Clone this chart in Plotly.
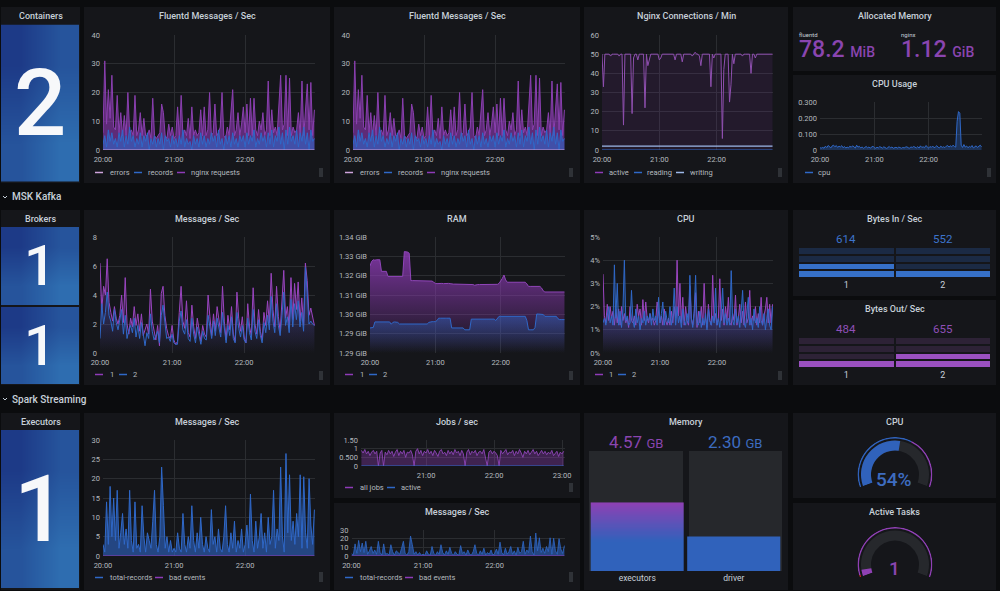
import numpy as np
import pandas as pd
import plotly.graph_objects as go

W, H = 1000, 591
PURPLE = "#8f3bb8"
BLUE = "#2f68c8"
PALE_PURPLE = "#cfa4dc"
PALE_BLUE = "#9db8e8"
TEXT = "#c7d0d9"
TICK = "#b4b9bf"
PAGE = "#0b0c0e"
PANEL = "#15161a"
GRID = "#2b2d31"
FONT = "Roboto"

# ---------- values ----------
fluent_requests = [6,31,9,21,11,26,8,7,19,6, 13,5,12,5,20,6,7,5,19,5, 7,13,5,11,5,5,7,4,18,5,
                   4,5,6,16,13,5,4,9,5,8, 4,5,15,4,19,5,7,5,11,4, 15,5,7,5,6,14,5,15,5,7,
                   20,5,6,16,5,6,8,20,5,4, 8,5,13,21,5,7,13,5,9,15, 6,16,5,18,5,18,7,5,10,7,
                   13,5,7,24,5,14,6,8,5,16, 26,7,9,26,5,25,5,8,6,7, 13,5,24,5,14,23,7,23.5,5,14]
fluent_records = [2,5,1,7,3,6,2,4,1,6, 3,7,1,5,2,8,3,5,1,4, 2,6,1,5,3,6,0,4,2,5,
                  1,4,2,6,0,5,3,4,1,5, 2,4,1,5,2,7,1,4,2,3, 0,5,2,4,1,6,2,5,1,4,
                  2,6,3,5,1,7,2,4,0,5, 2,5,1,6,2,4,1,5,3,5, 1,6,2,5,3,7,1,4,2,6,
                  3,5,1,6,2,7,1,5,3,8, 2,6,0,7,2,8,3,5,2,7, 1,6,3,8,2,6,0,7,3,4]
fluent_errors = [0] * 120

nginx_active = [50,33,50,50,50,50,49,50,50,50, 50,50,49,50,50,13,50,50,50,50,
                50,19,48,50,50,47,50,50,50,50, 22,50,44,48,50,50,50,50,50,50,
                47,48,50,50,50,50,50,50,50,50, 50,47,50,50,50,50,46,50,50,50,
                50,50,50,49,50,51,50,50,49,44, 50,50,50,50,50,50,33,50,48,50,
                50,50,50,50,6,42,50,50,50,25, 34,50,45,50,50,50,50,50,49,50,
                50,50,50,50,40,50,50,48,50,50, 50,50,50,50,50,50,50,50,50,50]
nginx_reading = [0] * 120
nginx_writing = [2] * 120

cpu_usage = [.014,.012,.016,.011,.024,.015,.028,.018,.013,.026, .03,.02,.028,.016,.024,.019,.027,.014,.022,.012,
             .018,.013,.024,.017,.026,.02,.012,.03,.018,.023, .013,.019,.011,.016,.022,.014,.018,.012,.02,.024,
             .015,.011,.017,.013,.021,.016,.012,.02,.014,.01, .015,.022,.013,.019,.011,.014,.017,.012,.018,.015,
             .011,.016,.013,.018,.02,.014,.012,.019,.016,.022, .015,.013,.021,.012,.026,.016,.02,.014,.028,.018,
             .012,.022,.016,.025,.014,.019,.027,.017,.013,.024, .016,.02,.015,.024,.028,.018,.026,.02,.03,.022,
             .018,.18,.24,.23,.03,.016,.034,.018,.025,.014, .022,.017,.028,.013,.02,.026,.016,.024,.03,.02]

kafka_msg_1 = [6.2,3.0,4.6,4.0,6.5,3.5,2.8,2.2,3.2,2.4, 2.0,2.6,4.0,2.1,5.2,2.0,1.3,2.4,1.8,3.2,
               1.9,2.7,1.5,2.7,1.2,1.6,2.0,1.3,4.4,2.2, 1.4,0.9,1.9,0.5,4.1,4.6,2.6,1.7,1.2,1.0,
               1.9,0.9,0.6,0.8,2.8,4.6,2.2,1.7,3.6,1.4, 1.1,3.3,1.8,1.0,2.4,1.4,0.8,1.9,1.3,1.1,
               4.0,2.5,1.2,2.7,1.5,3.2,2.1,1.4,4.6,2.2, 0.9,2.6,1.6,3.2,1.3,0.8,4.2,2.4,1.5,2.5,
               1.1,0.7,3.4,1.8,1.2,4.5,2.0,1.3,3.0,1.5, 0.9,2.8,1.9,3.6,2.1,5.5,3.0,1.8,4.6,2.5,
               1.5,3.5,5.7,2.4,3.2,1.8,5.2,2.3,4.8,3.0, 4.9,2.2,3.8,1.9,6.2,5.0,2.6,3.1,2.4,1.9]
kafka_msg_2 = [1.0,3.4,2.0,2.8,4.2,2.6,2.2,1.5,3.0,2.1, 1.6,2.2,3.0,1.3,2.6,1.0,1.6,1.9,1.4,2.4,
               1.1,1.9,1.0,2.1,1.3,0.5,1.4,1.0,2.7,1.5, 0.9,1.2,1.5,0.7,2.6,3.3,1.9,1.0,1.1,0.8,
               1.3,0.7,0.6,0.6,2.2,2.9,1.6,1.3,2.3,1.0, 0.8,2.4,1.3,0.7,1.8,1.2,0.6,1.5,1.0,0.9,
               2.6,1.8,1.0,2.2,1.2,2.4,1.6,1.1,2.8,1.6, 0.7,1.9,1.2,2.5,1.0,0.7,2.8,1.7,1.1,1.9,
               0.9,0.7,2.4,1.4,0.9,3.0,1.5,1.0,2.3,1.2, 0.7,2.1,1.4,2.6,1.6,3.9,2.2,1.4,3.4,1.9,
               1.2,2.6,4.2,1.9,2.5,1.4,3.7,1.8,3.4,2.3, 3.6,1.8,2.8,1.5,5.9,4.2,2.0,2.2,2.0,1.9]

ram_1 = [1.3225,1.3245,1.3252,1.3250,1.3252,1.3252,1.3252,1.3202,1.3202,1.3202,
         1.3202,1.3180,1.3180,1.3180,1.3181,1.3180,1.3180,1.3180,1.3181,1.3180,
         1.3180,1.3287,1.3287,1.3285,1.3280,1.3162,1.3162,1.3162,1.3161,1.3162,
         1.3162,1.3162,1.3162,1.3163,1.3162,1.3162,1.3161,1.3162,1.3160,1.3155,
         1.3150,1.3149,1.3150,1.3150,1.3150,1.3149,1.3150,1.3150,1.3150,1.3149,
         1.3147,1.3147,1.3147,1.3147,1.3146,1.3146,1.3146,1.3146,1.3145,1.3145,
         1.3145,1.3145,1.3145,1.3145,1.3142,1.3145,1.3145,1.3145,1.3145,1.3145,
         1.3145,1.3145,1.3146,1.3146,1.3146,1.3146,1.3146,1.3146,1.3146,1.3150,
         1.3160,1.3172,1.3186,1.3165,1.3155,1.3155,1.3155,1.3155,1.3155,1.3155,
         1.3155,1.3155,1.3155,1.3155,1.3155,1.3155,1.3148,1.3137,1.3137,1.3137,
         1.3137,1.3137,1.3137,1.3137,1.3137,1.3130,1.3118,1.3113,1.3113,1.3113,
         1.3113,1.3113,1.3113,1.3113,1.3113,1.3113,1.3113,1.3113,1.3113,1.3113]
ram_2 = [1.2958,1.2958,1.2960,1.2984,1.2984,1.2984,1.2984,1.2984,1.2984,1.2984,
         1.2984,1.2984,1.2984,1.2974,1.2982,1.2984,1.2984,1.2982,1.2975,1.2975,
         1.2975,1.2974,1.2975,1.2975,1.2975,1.2975,1.2974,1.2975,1.2975,1.2975,
         1.2975,1.2975,1.2974,1.2975,1.2975,1.2975,1.2982,1.2985,1.2985,1.2985,
         1.2985,1.2990,1.3000,1.3000,1.3001,1.3000,1.3000,1.3000,1.3001,1.3000,
         1.2958,1.2958,1.2958,1.2958,1.2958,1.2958,1.2958,1.2958,1.2950,1.2950,
         1.2950,1.2950,1.2996,1.2996,1.2996,1.2996,1.2996,1.2996,1.2996,1.2996,
         1.2996,1.2996,1.2996,1.2996,1.2996,1.2996,1.2996,1.2990,1.3000,1.3008,
         1.3008,1.3008,1.3008,1.3008,1.3008,1.3008,1.3008,1.3008,1.3008,1.3008,
         1.3008,1.3008,1.3008,1.3008,1.3008,1.3008,1.2990,1.2950,1.2950,1.2950,
         1.2950,1.2960,1.3018,1.3018,1.3018,1.3018,1.3016,1.3008,1.3008,1.3008,
         1.3008,1.3008,1.3008,1.3008,1.3008,1.2998,1.2994,1.2994,1.2994,1.2994]

kafka_cpu_1 = [3.4,1.6,1.3,2.1,1.4,2.0,1.5,1.8,1.2,1.9, 1.3,1.9,1.2,2.0,1.4,1.7,1.3,1.5,1.1,2.0,
               1.4,1.3,1.6,1.2,2.1,1.6,1.9,1.2,2.3,1.4, 2.2,1.5,1.3,1.7,1.4,1.5,1.2,1.4,2.2,1.6,
               1.3,1.6,1.2,1.9,1.4,1.2,1.5,1.2,1.8,1.3, 2.0,1.5,4.0,1.6,3.0,1.3,2.4,1.2,2.0,1.4,
               1.2,2.9,1.5,1.2,1.7,2.6,1.1,1.8,1.3,2.0, 1.2,3.0,1.5,1.1,2.1,1.4,1.2,3.35,1.4,1.7,
               1.2,1.5,3.2,1.4,1.9,1.2,2.0,1.4,2.4,1.3, 1.2,1.7,1.4,2.5,1.2,1.5,2.1,1.3,1.8,1.2,
               2.2,1.3,1.5,2.7,1.2,1.6,1.4,2.0,1.2,1.7, 1.3,2.4,1.2,1.6,1.9,2.4,1.3,2.1,1.3,2.1]
kafka_cpu_2 = [1.3,1.5,1.2,1.7,2.0,1.3,1.6,1.2,3.8,1.5, 3.0,1.2,1.8,1.1,1.9,4.0,1.4,1.6,1.2,1.3,
               2.7,1.4,1.1,1.9,1.3,1.6,1.0,1.5,1.3,1.8, 1.2,1.6,1.4,1.7,1.2,1.9,1.4,1.6,1.2,2.4,
               1.3,1.7,2.2,1.2,1.8,1.4,1.3,2.0,1.2,1.6, 2.8,1.2,2.0,1.3,1.6,1.1,1.9,1.4,1.2,1.7,
               1.3,3.35,1.5,1.1,1.8,3.35,1.3,1.2,1.8,1.1, 1.5,1.2,1.7,1.0,1.9,1.4,1.2,1.6,1.3,2.8,
               1.2,1.5,1.1,1.8,2.8,1.3,1.7,1.2,1.5,1.2, 3.55,1.4,1.2,1.9,1.3,1.6,1.1,1.8,2.7,1.3,
               1.1,1.7,2.4,1.2,1.5,1.0,1.9,1.3,1.5,1.1, 2.0,1.4,1.2,1.7,1.0,1.5,1.9,1.2,1.0,2.0]

spark_records = [3,1,14,3,18,5,15,4,17,2, 6,11,3,7,2,17,4,1,14,2, 3,1,13,5,1,6,4,2,9,17,
                 3,1,5,23,13,2,5,1,4,1, 2,1,6,2,1,11,3,1,5,2, 13,4,1,6,2,10,3,1,5,2,
                 1,12,3,5,1,7,2,1,5,13, 3,1,6,2,9,1,4,2,7,1, 3,8,2,16,4,1,9,2,5,11,
                 2,6,1,10,3,5,17,2,7,4, 23,5,1,26.5,6,21,4,9,3,11, 5,21,2,20.5,6,2,20,8,3,12]
spark_bad = [0] * 120

jobs_all = [.9,.75,.95,.7,.85,.6,.8,.9,.7,.85, 0,.75,.9,0,.8,.65,.9,.7,.85,.55, .8,.95,.6,.85,.7,.9,.5,.8,.75,.9,
            .65,0,.85,1.0,.7,.9,.6,.85,.75,.95, .7,.85,.6,.9,.75,.55,.85,.95,.7,.8, .6,.9,.7,.85,.65,.95,.75,.85,.6,.9,
            .7,0,.8,.95,.65,.85,.75,.9,.6,.8, .85,.7,.95,.55,0,.8,.9,.7,.85,.75, .6,0,.9,.7,.85,.95,.65,.8,.75,.9,
            .6,.85,.7,.95,.75,.5,.85,.7,.9,.65, .8,.95,.7,.85,.6,.75,.9,.7,.85,.65, .8,.7,.9,.6,.75,.85,.55,.8,.7,.85]
jobs_active = [0] * 120

stat_containers = 2
stat_brokers = [1, 1]
stat_executors = 1
mem_names = ["executors", "driver"]
mem_values = [4.57, 2.30]
mem_max = 8
alloc_fluentd = "78.2"
alloc_nginx = "1.12"
bytes_in = [614, 552]
bytes_out = [484, 655]
bytes_in_lit = [2, 1]
bytes_out_lit = [1, 2]
cpu_gauge_pct = 54
tasks_value = 1
tasks_gauge_pct = 5

times = pd.date_range("2021-01-01 20:00", periods=120, freq="90s")
times_jobs = pd.date_range("2021-01-01 20:03", periods=120, freq="90s")
END = "2021-01-01 22:59"

# ---------- helpers ----------
fig = go.Figure()
shapes, annots, layout = [], [], {}
axn = [0]


def px(x):
    return x / W


def py(y):
    return 1 - y / H


def rect(x0, y0, x1, y1, color):
    shapes.append(dict(type="rect", xref="paper", yref="paper", x0=px(x0), x1=px(x1), y0=py(y0), y1=py(y1),
                       fillcolor=color, line=dict(width=0), layer="below"))


def text(x, y, s, size=9, color=TEXT, anchor="center", weight=400):
    annots.append(dict(xref="paper", yref="paper", x=px(x), y=py(y), text=s, showarrow=False, xanchor=anchor,
                       yanchor="middle", align="center", borderpad=0,
                       font=dict(family=FONT, size=size, color=color, weight=weight)))


def chevron(x, y):
    shapes.append(dict(type="path", xref="paper", yref="paper", layer="above",
                       path=f"M {px(x)} {py(y - 1)} L {px(x + 2)} {py(y + 1)} L {px(x + 4)} {py(y - 1)}",
                       line=dict(color=TEXT, width=1)))


def panel(x0, y0, x1, y1, title, tx=None, ty=None):
    rect(x0, y0, x1, y1, PANEL)
    text(tx if tx else (x0 + x1) / 2, ty if ty else y0 + 9.5, title, size=9, weight=500)


def axes(box, xa=None, ya=None):
    axn[0] += 1
    n = axn[0]
    x0, y0, x1, y1 = box
    xa = dict(xa or {})
    ya = dict(ya or {})
    xa.update(domain=[px(x0), px(x1)], anchor=f"y{n}", fixedrange=True)
    ya.update(domain=[py(y1), py(y0)], anchor=f"x{n}", fixedrange=True)
    layout[f"xaxis{n}"] = xa
    layout[f"yaxis{n}"] = ya
    return f"x{n}", f"y{n}"


def time_axis(box, yvals, ylabels=None, yrange=None, start="2021-01-01 20:00", end=END, suffix=""):
    ya = dict(range=yrange or [yvals[0], yvals[-1]], tickvals=yvals, ticktext=ylabels or [str(v) + suffix for v in yvals],
              showgrid=True, gridcolor=GRID, gridwidth=1, zeroline=False, showline=False, ticks="",
              tickfont=dict(family=FONT, size=7.5, color=TICK), ticklabelstandoff=2)
    xa = dict(type="date", range=[start, end], dtick=3600000, tick0="2021-01-01 20:00", tickformat="%H:%M",
              showgrid=True, gridcolor=GRID, gridwidth=1, zeroline=False, showline=False, ticks="",
              tickfont=dict(family=FONT, size=7.5, color=TICK), ticklabelstandoff=3)
    return axes(box, xa, ya)


def line(ax, x, y, color, name, width=1.0, fill=None, gradient=None):
    kw = {}
    if fill:
        kw.update(fill="tozeroy", fillcolor=fill)
    if gradient:
        kw.update(fill="tozeroy", fillgradient=gradient)
    fig.add_trace(go.Scatter(x=x, y=y, mode="lines", name=name, xaxis=ax[0], yaxis=ax[1], showlegend=False,
                             hoverinfo="skip", line=dict(color=color, width=width), **kw))


def grad(rgb, y_low, y_high, a_low, a_high):
    r, g, b = rgb
    return dict(type="vertical", start=y_low, stop=y_high,
                colorscale=[[0, f"rgba({r},{g},{b},{a_low})"], [1, f"rgba({r},{g},{b},{a_high})"]])


def legend(y, items):
    for sx, tx, color, label in items:
        shapes.append(dict(type="line", xref="paper", yref="paper", x0=px(sx), x1=px(sx + 8), y0=py(y + .5), y1=py(y + .5),
                           line=dict(color=color, width=1.5), layer="above"))
        text(tx, y, label, size=7.5, color=TICK, anchor="left")


def pill(x, y0, y1):
    rect(x, y0, x + 4, y1, "#2f3237")


def stat(box, value, size):
    x0, y0, x1, y1 = box
    ax = axes(box, dict(visible=False), dict(visible=False))
    fig.add_trace(go.Heatmap(z=[[.5, 1], [0, .5]], xaxis=ax[0], yaxis=ax[1], zsmooth="best", showscale=False,
                             hoverinfo="skip", colorscale=[[0, "#1d3a87"], [1, "#2e6db0"]]))
    text((x0 + x1) / 2, (y0 + y1) / 2, str(value), size=size, color="#f7f8fa", weight=500)


def lcd(box, lit, color_on, color_off):
    rows = [[1 if lit[c] > r else 0 for c in range(2)] for r in range(4)]
    ax = axes(box, dict(tickvals=[0, 1], ticktext=["1", "2"], showgrid=False, zeroline=False, ticks="", ticklabelstandoff=0,
                        tickfont=dict(family=FONT, size=9, color=TEXT)),
              dict(visible=False))
    fig.add_trace(go.Heatmap(z=rows, x=[0, 1], y=[0, 1, 2, 3], xgap=2, ygap=2, zmin=0, zmax=1, showscale=False, hoverinfo="skip",
                             xaxis=ax[0], yaxis=ax[1], colorscale=[[0, color_off], [1, color_on]]))


def gauge(subplot, top, pct, band, outer):
    radius = 37.5
    cx = 895
    layout[subplot] = dict(domain=dict(x=[px(cx - radius), px(cx + radius)], y=[py(top + radius * 1.342), py(top)]),
                           sector=[-20, 200], bgcolor="rgba(0,0,0,0)", barmode="overlay",
                           radialaxis=dict(visible=False, range=[0, radius]), angularaxis=dict(visible=False))

    def arc(start, stop, base, thick, color):
        a0, a1 = 200 - 2.2 * start, 200 - 2.2 * stop
        fig.add_trace(go.Barpolar(theta=[(a0 + a1) / 2], width=[a0 - a1], base=[base], r=[thick], subplot=subplot,
                                  marker=dict(color=color, line=dict(width=0)), hoverinfo="skip", showlegend=False))

    arc(0, 100, 24, 10, "#26282c")
    arc(0, pct, 24, 10, band)
    for start, stop, color in outer:
        arc(start, stop, 36, 1.5, color)


# ---------- page structure ----------
chevron(3, 197)
text(11, 197, "MSK Kafka", size=10, weight=500, anchor="left")
chevron(3, 399)
text(11, 399, "Spark Streaming", size=10, weight=500, anchor="left")

# Row 1
panel(1, 7, 80, 183, "Containers", ty=16)
stat((1, 24.5, 79, 182), stat_containers, 92)

for dx in (0, 250):
    panel(84 + dx, 7, 330 + dx, 183, "Fluentd Messages / Sec", ty=16)
    ax = time_axis((103 + dx, 35, 315 + dx, 150), [0, 10, 20, 30, 40])
    line(ax, times, fluent_requests, "#8a3fb0", "nginx requests", 1, fill="rgba(143,59,184,0.6)")
    line(ax, times, fluent_records, BLUE, "records", 1, fill="rgba(47,104,200,0.6)")
    line(ax, times, fluent_errors, PALE_PURPLE, "errors", 1.1)
    legend(172, [(95 + dx, 109 + dx, PALE_PURPLE, "errors"), (134 + dx, 147 + dx, BLUE, "records"),
                 (177 + dx, 190 + dx, PURPLE, "nginx requests")])
    pill(319 + dx, 168, 177)

panel(584, 7, 788, 183, "Nginx Connections / Min", ty=16)
ax = time_axis((602, 35, 773, 150), [0, 10, 20, 30, 40, 50, 60])
line(ax, times, nginx_active, "#8f4fb0", "active", 1, fill="rgba(143,59,184,0.12)")
line(ax, times, nginx_reading, BLUE, "reading", 1.2)
line(ax, times, nginx_writing, PALE_BLUE, "writing", 1.2)
legend(172, [(595, 608, PURPLE, "active"), (634, 646, BLUE, "reading"), (676, 689, PALE_BLUE, "writing")])
pill(778, 168, 177)

panel(793, 7, 996, 71, "Allocated Memory", ty=16)
text(798, 34, "fluentd", size=6, anchor="left")
text(900, 34, "nginx", size=6, anchor="left")
text(798, 50, f'{alloc_fluentd} <span style="font-size:14px">MiB</span>', size=23, color="#8a45b0", anchor="left", weight=500)
text(900, 50, f'{alloc_nginx} <span style="font-size:14px">GiB</span>', size=23, color="#8a45b0", anchor="left", weight=500)

panel(793, 75, 996, 183, "CPU Usage", ty=84)
ax = time_axis((820, 102, 982, 150), [0, .1, .2, .3], ["0", "0.100", "0.200", "0.300"])
line(ax, times, cpu_usage, BLUE, "cpu", 1, fill="rgba(47,104,200,0.35)")
legend(172, [(805, 817, BLUE, "cpu")])
pill(987, 168, 177)

# Row 2
panel(1, 210, 80, 385, "Brokers", ty=219)
stat((1, 227, 79, 305), stat_brokers[0], 56)
stat((1, 307, 79, 384), stat_brokers[1], 56)

panel(84, 210, 330, 385, "Messages / Sec", ty=219)
ax = time_axis((100, 237, 315, 353), [0, 2, 4, 6, 8])
line(ax, times, kafka_msg_1, "#9a45c0", "1", 1, gradient=grad((143, 59, 184), 0, 6, 0, .4))
line(ax, times, kafka_msg_2, BLUE, "2", 1, gradient=grad((47, 104, 200), 0, 6, 0, .4))
legend(374, [(95, 109, PURPLE, "1"), (119, 132, BLUE, "2")])
pill(319, 371, 380)

panel(334, 210, 580, 385, "RAM", ty=219)
ram_ticks = [1.285, 1.29333, 1.30167, 1.31, 1.31833, 1.32667, 1.335]
ram_labels = ["1.29 GiB", "1.29 GiB", "1.30 GiB", "1.31 GiB", "1.32 GiB", "1.33 GiB", "1.34 GiB"]
ax = time_axis((370, 237, 565, 353), ram_ticks, ram_labels)
line(ax, times, ram_1, "#8f45b8", "1", 1, gradient=grad((143, 59, 184), 1.285, 1.33, 0, .85))
line(ax, times, ram_2, "#2f68c8", "2", 1, gradient=grad((47, 104, 200), 1.285, 1.30, 0, .45))
legend(374, [(345, 359, PURPLE, "1"), (369, 382, BLUE, "2")])
pill(569, 371, 380)

panel(584, 210, 788, 385, "CPU", ty=219)
ax = time_axis((603, 237, 773, 353), [0, 1, 2, 3, 4, 5], suffix="%")
line(ax, times, kafka_cpu_1, "#9a45c0", "1", 1, gradient=grad((143, 59, 184), 0, 1.6, 0, .3))
line(ax, times, kafka_cpu_2, BLUE, "2", 1, gradient=grad((47, 104, 200), 0, 1.6, 0, .3))
legend(374, [(595, 608, PURPLE, "1"), (618, 631, BLUE, "2")])
pill(778, 371, 380)

panel(793, 210, 996, 296, "Bytes In / Sec", ty=219)
for xc, v in zip((846, 943), bytes_in):
    text(xc, 239, str(v), size=11.5, color="#3d74cc")
lcd((798, 247, 991, 278), bytes_in_lit, "#3670c8", "#1b2a44")

panel(793, 300, 996, 385, "Bytes Out/ Sec", ty=309)
for xc, v in zip((846, 943), bytes_out):
    text(xc, 329, str(v), size=11.5, color="#8f4fb8")
lcd((798, 337, 991, 368), bytes_out_lit, "#9a50c0", "#2d2236")

# Row 3
panel(1, 413, 80, 590, "Executors", ty=422)
stat((1, 430, 79, 588), stat_executors, 92)

panel(84, 413, 330, 590, "Messages / Sec", ty=422)
ax = time_axis((103, 440, 315, 556), [0, 5, 10, 15, 20, 25, 30])
line(ax, times, spark_records, BLUE, "total-records", 1, fill="rgba(47,104,200,0.6)")
line(ax, times, spark_bad, PURPLE, "bad events", 1)
legend(577, [(95, 109, BLUE, "total-records"), (155, 168, PURPLE, "bad events")])
pill(319, 572, 582)

panel(334, 413, 580, 498, "Jobs / sec", ty=422)
ax = time_axis((361, 440, 565, 466), [0, .5, 1, 1.5], ["0", "0.500", "1", "1.50"],
               start="2021-01-01 20:02:38", end="2021-01-01 23:02:38")
line(ax, times_jobs, jobs_all, "#8f45b8", "all jobs", .9, fill="rgba(143,59,184,0.35)")
line(ax, times_jobs, jobs_active, BLUE, "active", 1)
legend(487, [(345, 359, PURPLE, "all jobs"), (387, 400, BLUE, "active")])
pill(569, 483, 492)

panel(334, 503, 580, 590, "Messages / Sec", ty=512)
ax = time_axis((351.5, 530, 565, 556), [0, 10, 20, 30])
line(ax, times, spark_records, BLUE, "total-records", .8, fill="rgba(47,104,200,0.6)")
line(ax, times, spark_bad, PURPLE, "bad events", 1)
legend(577, [(345, 359, BLUE, "total-records"), (405, 418, PURPLE, "bad events")])
pill(569, 572, 582)

panel(584, 413, 788, 590, "Memory", ty=422)
rect(589, 451, 683, 571, "#26282c")
rect(689, 451, 782, 571, "#26282c")
ax = axes((589, 451, 782, 571),
          dict(range=[-.5, 1.5], tickvals=[0, 1], ticktext=mem_names, showgrid=False, zeroline=False, ticks="",
               ticklabelstandoff=0, tickfont=dict(family=FONT, size=8.5, color=TEXT)),
          dict(range=[0, mem_max], visible=False))
fig.add_trace(go.Bar(x=[1], y=[mem_values[1]], width=.965, marker=dict(color="#3062bb", line=dict(width=0)),
                     xaxis=ax[0], yaxis=ax[1], hoverinfo="skip", showlegend=False))
grad_y = np.linspace(0, mem_values[0], 61)
fig.add_trace(go.Heatmap(z=grad_y[:-1, None], y=grad_y, x=[-.4825, .4825], showscale=False, hoverinfo="skip",
                         xaxis=ax[0], yaxis=ax[1], zmin=0, zmax=mem_values[0],
                         colorscale=[[0, "#3062bb"], [.42, "#3062bb"], [1, "#8f40b4"]]))
layout["barmode"] = "overlay"
text(636, 442, f'{mem_values[0]:.2f} <span style="font-size:13px">GB</span>', size=17, color="#8a45b0")
text(735, 442, f'{mem_values[1]:.2f} <span style="font-size:13px">GB</span>', size=17, color="#3d6cc0")

panel(793, 413, 996, 498, "CPU", ty=422)
gauge("polar", 437, cpu_gauge_pct, "#3062bb", [(0, 62, "#3062bb"), (62, 100, "#8f40b4")])
text(894, 479, f"{cpu_gauge_pct}%", size=19, color="#3d6cc0", weight=500)

panel(793, 503, 996, 590, "Active Tasks", ty=512)
gauge("polar2", 527, tasks_gauge_pct, "#8f40b4", [(0, 1.5, "#c4281c"), (1.5, 100, "#8f40b4")])
text(894, 568, str(tasks_value), size=19, color="#8a45b0", weight=500)

fig.update_layout(width=W, height=H, autosize=False, margin=dict(l=0, r=0, t=0, b=0, pad=0, autoexpand=False),
                  paper_bgcolor=PAGE, plot_bgcolor="rgba(0,0,0,0)", showlegend=False,
                  font=dict(family=FONT, color=TEXT), shapes=shapes, annotations=annots, **layout)

fig.write_html("out.html", config=dict(displayModeBar=False, responsive=False),
               post_script="document.body.style.margin='0';document.body.style.background='%s';"
                           "document.documentElement.style.overflow='hidden';" % PAGE)
